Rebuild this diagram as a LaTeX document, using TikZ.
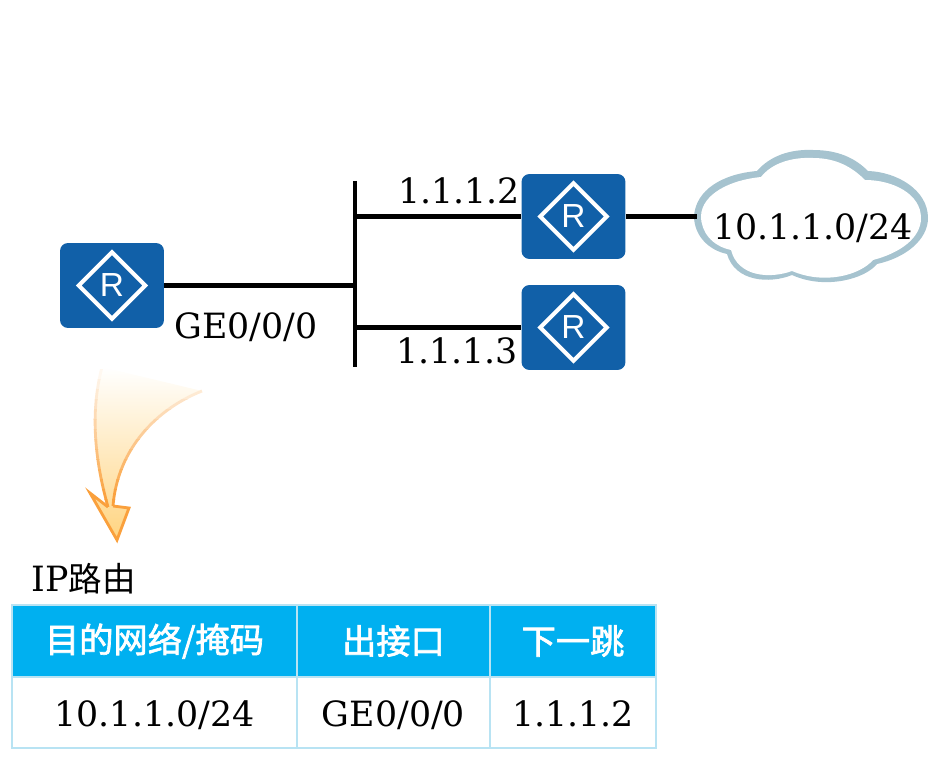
\documentclass[tikz,border=0pt]{standalone}
\usepackage{fontspec}
\usepackage{xcolor}
\usepackage{tikz}
\usetikzlibrary{shapes.geometric}
\setmainfont{DejaVu Serif}
\newfontfamily\cjk{Noto Sans CJK SC}
\newfontfamily\cjkhead[FakeBold=2]{Noto Sans CJK SC}
\newfontfamily\routerfont{Liberation Sans}
\definecolor{routerblue}{RGB}{17, 96, 168}
\definecolor{cloudline}{RGB}{166, 195, 207}
\definecolor{headblue}{RGB}{0, 176, 240}
\definecolor{cellline}{RGB}{184, 227, 243}
\definecolor{arroworange}{RGB}{250, 160, 60}
\definecolor{arrowfill}{RGB}{255, 212, 128}
\tikzset{
  router/.style={fill=routerblue, rounded corners=0.16cm, minimum width=2.08cm, minimum height=1.7cm},
  routermark/.style={diamond, draw=white, line width=2.3pt, text=white, inner sep=0pt,
    minimum width=1.36cm, minimum height=1.36cm, font=\routerfont\fontsize{19}{19}\selectfont},
  link/.style={line width=2.3pt},
  label/.style={font=\fontsize{19.8}{22}\selectfont, inner sep=0pt, text height=15pt, text depth=0pt},
  headcell/.style={draw=cellline, line width=1.1pt, fill=headblue, text=white, minimum height=1.44cm,
    inner sep=0pt, font=\cjkhead\fontsize{19.5}{22}\selectfont},
  bodycell/.style={draw=cellline, line width=1.1pt, minimum height=1.42cm,
    inner sep=0pt, text height=16.5pt, text depth=0pt, font=\fontsize{19.8}{22}\selectfont}
}
\begin{document}
\begin{tikzpicture}[x=0.02cm, y=-0.02cm]
\useasboundingbox (0,0) rectangle (941,773);

\coordinate (busTop) at (355,181);
\coordinate (busBot) at (355,367);
\coordinate (busA) at (355,285.5);
\coordinate (busB) at (355,216.5);
\coordinate (busC) at (355,327.5);
\coordinate (cloudL) at (697,216.5);

% cloud
\fill[cloudline] (694,216) .. controls (696,190) and (722,174) .. (757,171)
  .. controls (770,156) and (790,149) .. (813,150)
  .. controls (838,150) and (855,158) .. (868,171)
  .. controls (897,172) and (928,190) .. (928,218)
  .. controls (928,240) and (905,258) .. (877,264)
  .. controls (865,279) and (825,290) .. (792,275)
  .. controls (770,284) and (735,282) .. (727,254)
  .. controls (708,250) and (694,235) .. (694,216) -- cycle;
\fill[white] (701,216) .. controls (702,194) and (730,180) .. (761,177)
  .. controls (772,163) and (792,157) .. (813,158)
  .. controls (836,158) and (852,167) .. (865,180)
  .. controls (893,180) and (921,194) .. (921,218)
  .. controls (921,238) and (900,253) .. (873,260)
  .. controls (860,275) and (825,285) .. (792,271)
  .. controls (770,279) and (738,277) .. (731,250)
  .. controls (712,246) and (701,232) .. (701,216) -- cycle;

% routers
\node[router] (routerA) at (112,285.5) {};
\node[router] (routerB) at (573.5,216.5) {};
\node[router] (routerC) at (573.5,327.5) {};
\node[routermark] at (routerA) {R};
\node[routermark] at (routerB) {R};
\node[routermark] at (routerC) {R};

\draw[link] (busTop) -- (busBot);
\draw[link] (routerA) -- (busA);
\draw[link] (busB) -- (routerB);
\draw[link] (busC) -- (routerC);
\draw[link] (routerB) -- (cloudL);

\node[label] (gePort) at (246,325) {GE0/0/0};
\node[label] (ipB) at (459,190) {1.1.1.2};
\node[label] (ipC) at (457,350) {1.1.1.3};
\node[label] (cloudNet) at (813,226) {10.1.1.0/24};

% curved arrow
\shade[top color=white, bottom color=arrowfill] (102,367) .. controls (92,405) and (92,450) .. (108,507) -- (90,493) -- (117,540)
  -- (129,508) -- (113,506) .. controls (117,455) and (150,412) .. (202,391) -- cycle;
\foreach \band in {0,...,14} {
  \pgfmathsetmacro{\bandtint}{min(100,\band*7.5)}
  \begin{scope}
  \clip (60,{360+\band*10}) rectangle (220,{370+\band*10});
  \draw[arroworange!\bandtint!white, line width=1.6pt] (102,367) .. controls (92,405) and (92,450) .. (108,507);
  \draw[arroworange!\bandtint!white, line width=1.6pt] (113,506) .. controls (117,455) and (150,412) .. (202,391);
  \end{scope}
}
\draw[arroworange, line width=1.6pt] (108,507) -- (90,493) -- (117,540) -- (129,508) -- (113,506);

\node[label, anchor=west] (tableTitle) at (31,578) {IP{\cjk\fontsize{19.1}{22}\selectfont 路由}};

% table
\node[headcell, minimum width=5.7cm] (headNet) at (154.5,641) {目的网络/掩码};
\node[headcell, minimum width=3.86cm] (headPort) at (393.5,641) {出接口};
\node[headcell, minimum width=3.32cm] (headHop) at (573,641) {下一跳};
\node[bodycell, minimum width=5.7cm] (cellNet) at (154.5,712.5) {10.1.1.0/24};
\node[bodycell, minimum width=3.86cm] (cellPort) at (393.5,712.5) {GE0/0/0};
\node[bodycell, minimum width=3.32cm] (cellHop) at (573,712.5) {1.1.1.2};

\end{tikzpicture}
\end{document}
